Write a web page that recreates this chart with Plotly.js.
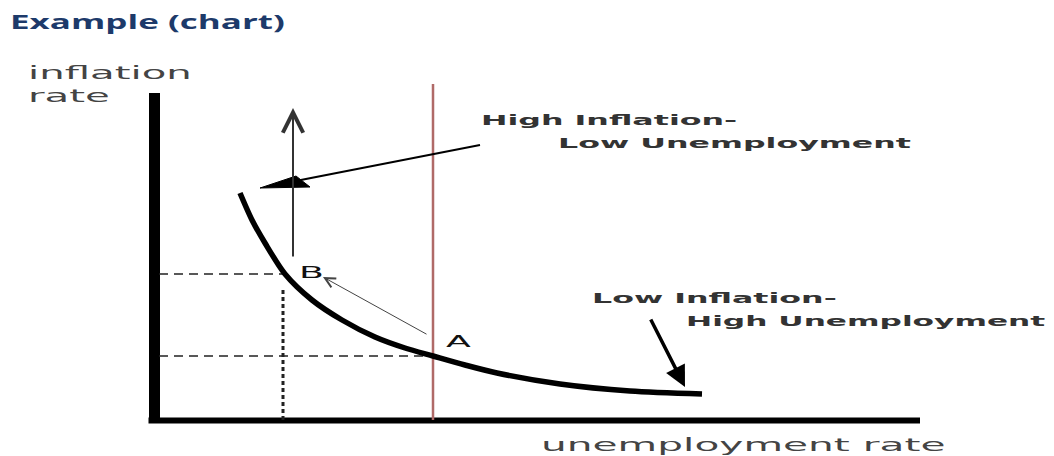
<!DOCTYPE html>
<html><head><meta charset="utf-8">
<script src="https://cdn.plot.ly/plotly-3.0.1.min.js"></script>
<style>
html,body{margin:0;padding:0;background:#fff;}
#chart{width:1054px;height:456px;}
.annotation-text { transform: scaleX(2.2); transform-box: fill-box; transform-origin: 0% 50%; }
.gtitle { transform: scaleX(1.75); transform-box: fill-box; transform-origin: 0% 50%; }
</style></head><body><div id="chart"></div>
<script>
// Phillips curve (x = unemployment rate, y = inflation rate, diagram units)
const curveX = [8.7, 9.9, 11.2, 13.2, 15.9, 18.9, 22.2, 25.2, 28.0, 31.2, 34.4, 40.7, 47.7, 54.9];
const curveY = [22.6, 19.9, 17.6, 14.5, 11.9, 9.9, 8.2, 7.1, 6.3, 5.4, 4.6, 3.5, 2.8, 2.5];
// labelled points on the curve
const pointNames = ['A', 'B'];
const pointX = [28.0, 13.2];
const pointY = [6.3, 14.5];
// axes extents
const axisXMax = 76.7;
const axisYMax = 32.6;
// natural-rate vertical line
const naturalX = 28.0;
const naturalTop = 33.5;
// arrows: [tailX, tailY, tipX, tipY]
const upArrow = [14.0, 16.1, 14.0, 31.1];
const abArrow = [27.5, 8.4, 17.0, 14.2];
const highArrow = [32.7, 27.4, 10.7, 23.1];
const highHeadX = [10.7, 14.3, 15.7, 10.7];
const highHeadY = [23.1, 24.3, 23.2, 23.1];
const lowArrow = [49.7, 10.1, 53.2, 3.2];
// texts
const titleText = 'Example (chart)';
const yLabel = ['inflation', 'rate'];
const xLabel = 'unemployment rate';
const highText = ['High Inflation-', 'Low Unemployment'];
const lowText = ['Low Inflation-', 'High Unemployment'];

const blk = '#000';
const traces = [
  {x: [0.15, 0.15], y: [-0.15, axisYMax], mode: 'lines', line: {color: blk, width: 11}},
  {x: [-0.45, axisXMax], y: [-0.15, -0.15], mode: 'lines', line: {color: blk, width: 6}},
  {x: [naturalX, naturalX], y: [-0.1, naturalTop], mode: 'lines', line: {color: '#b06a68', width: 2.5}},
  {x: [0.6, pointX[1]], y: [pointY[1], pointY[1]], mode: 'lines', line: {color: '#222', width: 1.5, dash: '9px,6px'}},
  {x: [0.6, pointX[0]], y: [pointY[0], pointY[0]], mode: 'lines', line: {color: '#222', width: 1.5, dash: '9px,6px'}},
  {x: [pointX[1] - 0.2, pointX[1] - 0.2], y: [-0.1, pointY[1] - 1.3], mode: 'lines', line: {color: '#222', width: 3, dash: '4px,3px'}},
  {x: curveX, y: curveY, mode: 'lines', line: {color: blk, width: 5.5, shape: 'spline', smoothing: 0.8}},
  {x: [highArrow[0], highArrow[2] + 1], y: [highArrow[1], highArrow[3] + 0.2], mode: 'lines', line: {color: blk, width: 2}},
  {x: highHeadX, y: highHeadY, mode: 'lines', fill: 'toself', fillcolor: blk, line: {color: blk, width: 1}}
];

function arrowAnn(a, head, size, width, color) {
  return {x: a[2], y: a[3], ax: a[0], ay: a[1], xref: 'x', yref: 'y', axref: 'x', ayref: 'y',
    text: '', showarrow: true, arrowhead: head, arrowsize: size, arrowwidth: width, arrowcolor: color, standoff: 0};
}
function textAnn(t, x, y, size, bold, color) {
  return {x: x, y: y, xref: 'x', yref: 'y', text: t, showarrow: false, xanchor: 'left', yanchor: 'middle', align: 'left',
    borderpad: 0, borderwidth: 0,
    font: {family: 'DejaVu Sans', size: size, color: color, weight: bold ? 'bold' : 'normal'}};
}

const annotations = [
  arrowAnn(upArrow, 5, 2, 2, '#333'),
  arrowAnn(abArrow, 5, 2, 1, '#444'),
  arrowAnn(lowArrow, 2, 1.2, 3.5, blk),
  textAnn(yLabel[0], -12.5, 34.7, 18.3, false, '#444'),
  textAnn(yLabel[1], -12.5, 32.4, 18.3, false, '#444'),
  textAnn(xLabel, 38.8, -2.5, 18.5, false, '#444'),
  textAnn(highText[0], 32.8, 29.9, 14.4, true, '#333'),
  textAnn(highText[1], 40.5, 27.6, 14.4, true, '#333'),
  textAnn(lowText[0], 43.9, 12.1, 14.4, true, '#333'),
  textAnn(lowText[1], 53.3, 9.8, 14.2, true, '#333'),
  textAnn(pointNames[1], 14.6, 14.7, 16.5, false, '#111'),
  textAnn(pointNames[0], 29.3, 7.8, 16.5, false, '#111')
];

const layout = {
  width: 1054, height: 456,
  margin: {l: 0, r: 0, t: 0, b: 0, pad: 0},
  paper_bgcolor: '#fff', plot_bgcolor: '#fff',
  showlegend: false,
  title: {text: titleText, x: 10 / 1054, xanchor: 'left', xref: 'paper', y: 1 - 22 / 456, yanchor: 'middle', yref: 'container',
    font: {family: 'Open Sans', size: 20, color: '#1d3a6a', weight: 'bold'}},
  xaxis: {range: [-15.3, 90.1], visible: false, fixedrange: true},
  yaxis: {range: [-3.7, 41.9], visible: false, fixedrange: true},
  annotations: annotations
};
Plotly.newPlot('chart', traces, layout, {staticPlot: true, displayModeBar: false});
</script></body></html>
